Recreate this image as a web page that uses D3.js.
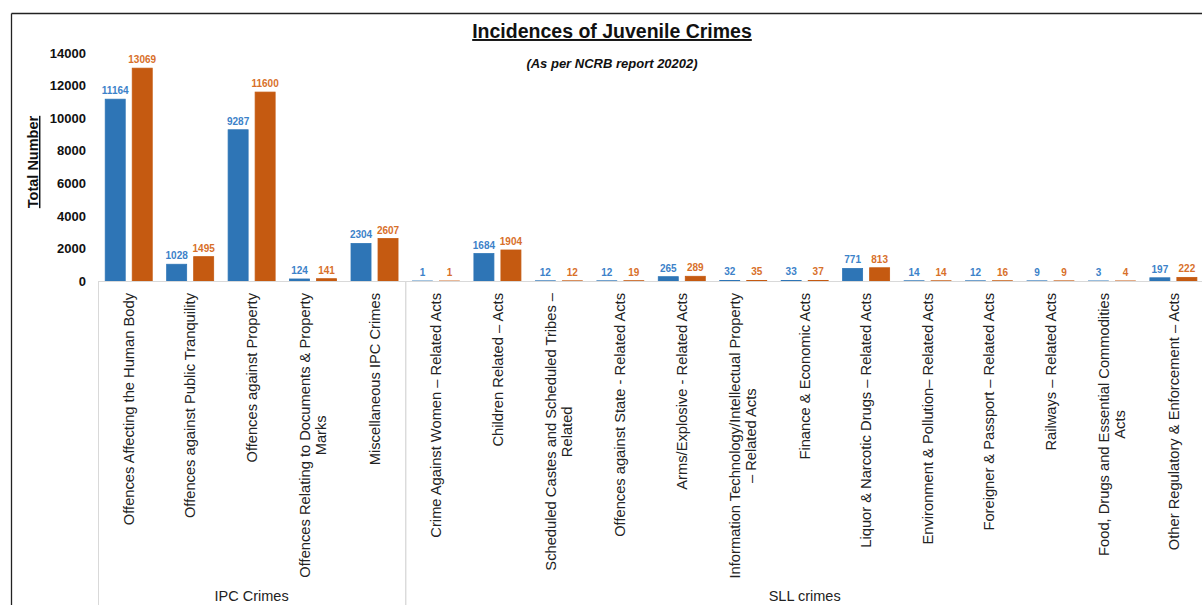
<!DOCTYPE html>
<html><head><meta charset="utf-8">
<script src="https://cdn.jsdelivr.net/npm/d3@7"></script>
<style>
html,body{margin:0;padding:0;background:#fff;}
svg{display:block;font-family:"Liberation Sans",Arial,Helvetica,sans-serif;}
</style></head>
<body>
<script>
// ---- data ----
const groups = ["IPC Crimes", "SLL crimes"];
const categories = [
  "Offences Affecting the Human Body",
  "Offences against Public Tranquility",
  "Offences against Property",
  "Offences Relating to Documents & Property Marks",
  "Miscellaneous IPC Crimes",
  "Crime Against Women – Related Acts",
  "Children Related – Acts",
  "Scheduled Castes and Scheduled Tribes – Related",
  "Offences against State - Related Acts",
  "Arms/Explosive - Related Acts",
  "Information Technology/Intellectual Property – Related Acts",
  "Finance & Economic Acts",
  "Liquor & Narcotic Drugs – Related Acts",
  "Environment & Pollution– Related Acts",
  "Foreigner & Passport – Related Acts",
  "Railways – Related Acts",
  "Food, Drugs and Essential Commodities Acts",
  "Other Regulatory & Enforcement – Acts"
];
const categoryLines = [
  ["Offences Affecting the Human Body"],
  ["Offences against Public Tranquility"],
  ["Offences against Property"],
  ["Offences Relating to Documents & Property", "Marks"],
  ["Miscellaneous IPC Crimes"],
  ["Crime Against Women – Related Acts"],
  ["Children Related – Acts"],
  ["Scheduled Castes and Scheduled Tribes –", "Related"],
  ["Offences against State - Related Acts"],
  ["Arms/Explosive - Related Acts"],
  ["Information Technology/Intellectual Property", "– Related Acts"],
  ["Finance & Economic Acts"],
  ["Liquor & Narcotic Drugs – Related Acts"],
  ["Environment & Pollution– Related Acts"],
  ["Foreigner & Passport – Related Acts"],
  ["Railways – Related Acts"],
  ["Food, Drugs and Essential Commodities", "Acts"],
  ["Other Regulatory & Enforcement – Acts"]
];
const categoryGroup = [0,0,0,0,0,1,1,1,1,1,1,1,1,1,1,1,1,1];
const seriesNames = ["Cases Registered", "Juveniles Apprehended"];
const casesRegistered = [11164, 1028, 9287, 124, 2304, 1, 1684, 12, 12, 265, 32, 33, 771, 14, 12, 9, 3, 197];
const juvenilesApprehended = [13069, 1495, 11600, 141, 2607, 1, 1904, 12, 19, 289, 35, 37, 813, 14, 16, 9, 4, 222];
const yTicks = [0, 2000, 4000, 6000, 8000, 10000, 12000, 14000];

// ---- styles ----
const barColors = ["#2E75B6", "#C55A11"];
const labelColors = ["#3C82C9", "#D8702A"];

const W = 1202, H = 605;
const svg = d3.select("body").append("svg").attr("width", W).attr("height", H);

// frame
svg.append("line").attr("x1", 11.5).attr("x2", W).attr("y1", 13.5).attr("y2", 13.5)
  .attr("stroke", "#222").attr("stroke-width", 1.3);
svg.append("line").attr("x1", 11.5).attr("x2", 11.5).attr("y1", 13.5).attr("y2", H)
  .attr("stroke", "#222").attr("stroke-width", 1.3);

const x0 = 98, step = 61.45;
const x = d3.scaleBand().domain(categories).range([x0, x0 + step * categories.length]).padding(0);
const xs = d3.scaleBand().domain(seriesNames).range([0, x.bandwidth()]).paddingInner(0.259).paddingOuter(0.267);
const y = d3.scaleLinear().domain([0, 14000]).range([281, 53]);

// title
svg.append("text").attr("x", 612).attr("y", 38).attr("text-anchor", "middle")
  .attr("font-size", 19.5).attr("font-weight", "bold").attr("fill", "#111")
  .attr("text-decoration", "underline").text("Incidences of Juvenile Crimes");
svg.append("text").attr("x", 612).attr("y", 68).attr("text-anchor", "middle")
  .attr("font-size", 13).attr("font-weight", "bold").attr("font-style", "italic").attr("fill", "#111")
  .text("(As per NCRB report 20202)");

// y axis title
svg.append("text").attr("transform", "translate(38,162) rotate(-90)").attr("text-anchor", "middle")
  .attr("font-size", 14.5).attr("font-weight", "bold").attr("fill", "#111")
  .attr("text-decoration", "underline").text("Total Number");

// y axis (labels only)
const yAxis = d3.axisLeft(y).tickValues(yTicks).tickSize(0).tickPadding(0).tickFormat(d3.format("d"));
const gy = svg.append("g").attr("transform", "translate(86,0)").call(yAxis);
gy.select(".domain").remove();
gy.selectAll("text").attr("font-size", 13).attr("font-weight", "bold").attr("fill", "#111")
  .attr("font-family", "Liberation Sans, Arial, sans-serif");

// bars
const seriesData = [casesRegistered, juvenilesApprehended];
seriesData.forEach((vals, si) => {
  const g = svg.append("g");
  g.selectAll("rect").data(vals).join("rect")
    .attr("x", (d, i) => x(categories[i]) + xs(seriesNames[si]))
    .attr("y", d => y(d))
    .attr("width", xs.bandwidth())
    .attr("height", d => y(0) - y(d))
    .attr("fill", barColors[si])
    .attr("stroke", barColors[si]).attr("stroke-width", 0.8);
  g.selectAll("text").data(vals).join("text")
    .attr("x", (d, i) => x(categories[i]) + xs(seriesNames[si]) + xs.bandwidth() / 2)
    .attr("y", d => y(d) - 5)
    .attr("text-anchor", "middle").attr("font-size", 10).attr("font-weight", "bold")
    .attr("fill", labelColors[si]).text(d => d);
});

// x axis line
svg.append("line").attr("x1", x0).attr("x2", x0 + step * categories.length)
  .attr("y1", 281.5).attr("y2", 281.5).attr("stroke", "#d9d9d9").attr("stroke-width", 1);

// group separators and group labels
const groupBounds = groups.map((g, gi) => {
  const idx = categoryGroup.map((v, i) => v === gi ? i : -1).filter(i => i >= 0);
  return [x(categories[idx[0]]), x(categories[idx[idx.length - 1]]) + x.bandwidth()];
});
groupBounds.forEach(([a, b], gi) => {
  svg.append("line").attr("x1", a + 0.5).attr("x2", a + 0.5).attr("y1", 281).attr("y2", H)
    .attr("stroke", "#d9d9d9").attr("stroke-width", 1);
  svg.append("line").attr("x1", b + 0.5).attr("x2", b + 0.5).attr("y1", 281).attr("y2", H)
    .attr("stroke", "#d9d9d9").attr("stroke-width", 1);
  svg.append("text").attr("x", (a + b) / 2).attr("y", 601).attr("text-anchor", "middle")
    .attr("font-size", 14.5).attr("fill", "#222").text(groups[gi]);
});

// category labels (rotated)
const labelTop = 293, lineH = 16, catFont = 14.7;
categories.forEach((c, i) => {
  const cx = x(c) + x.bandwidth() / 2;
  const lines = categoryLines[i];
  const g = svg.append("g");
  const texts = lines.map((ln, li) => g.append("text").attr("font-size", catFont).attr("fill", "#222").text(ln));
  const maxW = d3.max(texts, t => t.node().getComputedTextLength());
  const n = lines.length;
  texts.forEach((t, li) => {
    const off = (li - (n - 1) / 2) * lineH;
    t.attr("text-anchor", "middle").attr("dy", "0.35em")
      .attr("transform", `translate(${cx + off},${labelTop + maxW / 2}) rotate(-90)`);
  });
});
</script>
</body></html>
